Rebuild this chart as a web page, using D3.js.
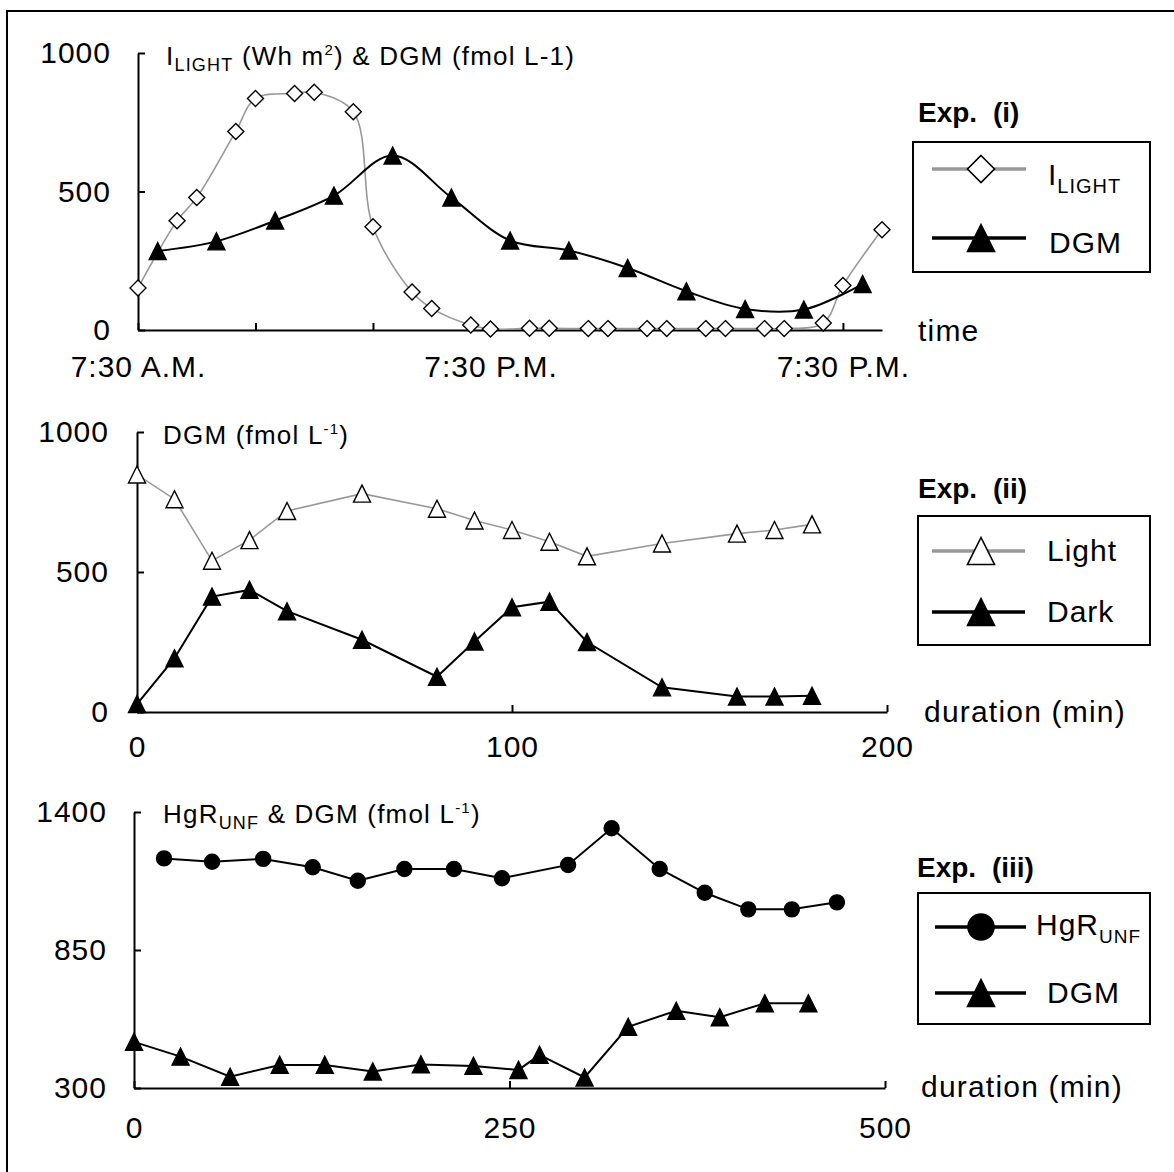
<!DOCTYPE html>
<html>
<head>
<meta charset="utf-8">
<script src="https://cdn.jsdelivr.net/npm/d3@7"></script>
<style>body{margin:0;background:#fff}</style>
</head>
<body>
<script>
// ---- data: Exp. (i) — hours after 7:30 A.M.
var timeTicks = [0, 4, 8, 12, 16, 20, 24];
var timeTickLabels = ["7:30 A.M.", "", "", "7:30 P.M.", "", "", "7:30 P.M."];
var lightHours = [0, 1.33, 2, 3.33, 4, 5.33, 6, 7.33, 8, 9.33, 10, 11.33, 12, 13.33, 14, 15.33, 16, 17.33, 18, 19.33, 20, 21.33, 22, 23.33, 24, 25.33];
var lightValues = [152, 394, 478, 717, 836, 854, 858, 788, 373, 137, 78, 18, 4, 6, 6, 5, 5, 5, 5, 5, 5, 5, 5, 25, 161, 362];
var dgmHours = [0.67, 2.67, 4.67, 6.67, 8.67, 10.67, 12.67, 14.67, 16.67, 18.67, 20.67, 22.67, 24.67];
var dgmValues = [285, 320, 395, 485, 630, 478, 323, 287, 224, 140, 76, 74, 166];

// ---- data: Exp. (ii) — duration (min)
var exp2Minutes = [0, 10, 20, 30, 40, 60, 80, 90, 100, 110, 120, 140, 160, 170, 180];
var exp2Light = [848, 760, 540, 614, 718, 780, 726, 684, 650, 608, 556, 602, 637, 650, 670];
var exp2Dark = [28, 192, 412, 436, 360, 258, 126, 252, 374, 394, 250, 88, 55, 55, 58];

// ---- data: Exp. (iii) — duration (min)
var hgrMinutes = [20, 52, 86, 119, 149, 180, 213, 245, 289, 318, 350, 380, 409, 438, 468];
var hgrValues = [1215, 1202, 1213, 1180, 1126, 1173, 1173, 1136, 1189, 1335, 1173, 1078, 1012, 1012, 1040];
var exp3DgmMinutes = [0, 31, 64, 97, 127, 159, 191, 226, 256, 270, 300, 329, 361, 390, 420, 449];
var exp3DgmValues = [484, 425, 345, 392, 392, 366, 394, 388, 372, 432, 342, 544, 608, 582, 638, 638];

var FONT = "'Liberation Sans', Arial, sans-serif";
var GRAY = "#989898";

var svg = d3.select("body").append("svg")
	.attr("width", 1174)
	.attr("height", 1172);

// outer frame (right/bottom sides are cut off in the original)
svg.append("rect")
	.attr("x", 7).attr("y", 11)
	.attr("width", 1200).attr("height", 1200)
	.attr("fill", "none").attr("stroke", "#000").attr("stroke-width", 2);

// marker shapes, size = edge length squared
var diamond = {draw: function(ctx, size){
	var a = Math.sqrt(size) / 2;
	ctx.moveTo(0, -a); ctx.lineTo(a, 0); ctx.lineTo(0, a); ctx.lineTo(-a, 0); ctx.closePath();
}};
var triangle = {draw: function(ctx, size){
	var a = Math.sqrt(size) / 2;
	ctx.moveTo(0, -a); ctx.lineTo(a, a); ctx.lineTo(-a, a); ctx.closePath();
}};
var dot = {draw: function(ctx, size){
	var r = Math.sqrt(size) / 2;
	ctx.moveTo(r, 0); ctx.arc(0, 0, r, 0, 2 * Math.PI);
}};

var rich = function(sel, parts){
	var shift = 0;
	parts.forEach(function(p){
		var s = p.shift || 0;
		sel.append("tspan")
		.attr("dy", s - shift)
		.attr("font-size", p.size)
		.text(p.t);
		shift = s;
	});
};

var styleAxis = function(sel){
	sel.attr("font-family", FONT).attr("font-size", 30).attr("letter-spacing", 1);
	sel.selectAll("path, line").attr("stroke", "#000").attr("stroke-width", 2);
};

var panels = [
	{
		x: d3.scaleLinear().domain([0, 25.33]).range([138, 882]),
		y: d3.scaleLinear().domain([0, 1000]).range([330, 53]),
		xTicks: timeTicks,
		xFormat: function(d, i){ return timeTickLabels[i]; },
		yTicks: [0, 500, 1000],
		xPad: 26, yPad: 27,
		curve: d3.curveCatmullRom,
		series: [
			{xs: lightHours, ys: lightValues, color: GRAY, width: 1.6, symbol: diamond, size: 256, fill: "#fff"},
			{xs: dgmHours, ys: dgmValues, color: "#000", width: 2, symbol: triangle, size: 289, fill: "#000"}
		],
		title: {x: 166, y: 65, parts: [
			{t: "I", size: 26}, {t: "LIGHT", size: 18, shift: 6},
			{t: " (Wh m", size: 26}, {t: "2", size: 15, shift: -10},
			{t: ") & DGM (fmol L-1)", size: 26}
		]},
		xTitle: {x: 918, y: 341, text: "time"},
		exp: {x: 918, y: 122, text: "Exp. (i)"},
		legend: {box: [913, 142, 237, 130], lx: [932, 1026], mx: 981,
			rows: [
				{y: 169, ty: 185, tx: 1048, parts: [{t: "I", size: 30}, {t: "LIGHT", size: 20, shift: 8}]},
				{y: 238, ty: 253, tx: 1049, parts: [{t: "DGM", size: 30}]}
			]}
	},
	{
		x: d3.scaleLinear().domain([0, 200]).range([137, 887]),
		y: d3.scaleLinear().domain([0, 1000]).range([712, 432]),
		xTicks: [0, 100, 200],
		xFormat: d3.format("d"),
		yTicks: [0, 500, 1000],
		xPad: 24, yPad: 28,
		curve: d3.curveLinear,
		series: [
			{xs: exp2Minutes, ys: exp2Light, color: GRAY, width: 1.6, symbol: triangle, size: 289, fill: "#fff"},
			{xs: exp2Minutes, ys: exp2Dark, color: "#000", width: 2, symbol: triangle, size: 289, fill: "#000"}
		],
		title: {x: 163, y: 444, parts: [
			{t: "DGM (fmol L", size: 26}, {t: "-1", size: 15, shift: -10}, {t: ")", size: 26}
		]},
		xTitle: {x: 924, y: 722, text: "duration (min)"},
		exp: {x: 918, y: 498, text: "Exp. (ii)"},
		legend: {box: [918, 516, 232, 129], lx: [932, 1025], mx: 981,
			rows: [
				{y: 551, ty: 561, tx: 1047, parts: [{t: "Light", size: 30}]},
				{y: 612, ty: 622, tx: 1047, parts: [{t: "Dark", size: 30}]}
			]}
	},
	{
		x: d3.scaleLinear().domain([0, 500]).range([134, 885]),
		y: d3.scaleLinear().domain([300, 1400]).range([1088, 812]),
		xTicks: [0, 250, 500],
		xFormat: d3.format("d"),
		yTicks: [300, 850, 1400],
		xPad: 29, yPad: 27,
		curve: d3.curveLinear,
		series: [
			{xs: hgrMinutes, ys: hgrValues, color: "#000", width: 2, symbol: dot, size: 225, fill: "#000"},
			{xs: exp3DgmMinutes, ys: exp3DgmValues, color: "#000", width: 2, symbol: triangle, size: 289, fill: "#000"}
		],
		title: {x: 163, y: 823, parts: [
			{t: "HgR", size: 26}, {t: "UNF", size: 18, shift: 6},
			{t: " & DGM (fmol L", size: 26}, {t: "-1", size: 15, shift: -10}, {t: ")", size: 26}
		]},
		xTitle: {x: 921, y: 1097, text: "duration (min)"},
		exp: {x: 917, y: 877, text: "Exp. (iii)"},
		legend: {box: [918, 893, 232, 131], lx: [935, 1026], mx: 981,
			rows: [
				{y: 927, ty: 935, tx: 1036, parts: [{t: "HgR", size: 30}, {t: "UNF", size: 19, shift: 8}]},
				{y: 993, ty: 1003, tx: 1047, parts: [{t: "DGM", size: 30}]}
			]}
	}
];

var drawPanel = function(p){
	var g = svg.append("g");

	g.append("g")
	.attr("transform", "translate(0," + p.y.range()[0] + ")")
	.call(d3.axisBottom(p.x).tickValues(p.xTicks).tickFormat(p.xFormat)
		.tickSizeInner(-7).tickSizeOuter(0).tickPadding(p.xPad))
	.call(styleAxis);

	g.append("g")
	.attr("transform", "translate(" + p.x.range()[0] + ",0)")
	.call(d3.axisLeft(p.y).tickValues(p.yTicks).tickFormat(d3.format("d"))
		.tickSizeInner(-7).tickSizeOuter(0).tickPadding(p.yPad))
	.call(styleAxis);

	// lines first, markers on top
	p.series.forEach(function(s){
		var line = d3.line()
			.x(function(d, i){ return p.x(s.xs[i]); })
			.y(function(d){ return p.y(d); })
			.curve(p.curve);
		g.append("path")
		.attr("d", line(s.ys))
		.attr("fill", "none")
		.attr("stroke", s.color)
		.attr("stroke-width", s.width);
	});
	p.series.forEach(function(s){
		g.append("g").selectAll("path")
		.data(s.ys)
		.enter()
		.append("path")
		.attr("transform", function(d, i){ return "translate(" + p.x(s.xs[i]) + "," + p.y(d) + ")"; })
		.attr("d", d3.symbol(s.symbol, s.size))
		.attr("fill", s.fill)
		.attr("stroke", "#000")
		.attr("stroke-width", 1.4);
	});

	var title = g.append("text")
		.attr("x", p.title.x).attr("y", p.title.y)
		.attr("font-family", FONT).attr("letter-spacing", 1.2);
	rich(title, p.title.parts);

	g.append("text")
	.attr("x", p.xTitle.x).attr("y", p.xTitle.y)
	.attr("font-family", FONT).attr("font-size", 30).attr("letter-spacing", 1.2)
	.text(p.xTitle.text);

	g.append("text")
	.attr("x", p.exp.x).attr("y", p.exp.y)
	.attr("font-family", FONT).attr("font-size", 28).attr("font-weight", "bold")
	.attr("word-spacing", 8)
	.text(p.exp.text);

	var L = p.legend;
	g.append("rect")
	.attr("x", L.box[0]).attr("y", L.box[1])
	.attr("width", L.box[2]).attr("height", L.box[3])
	.attr("fill", "#fff").attr("stroke", "#000").attr("stroke-width", 2);

	L.rows.forEach(function(r, i){
		var s = p.series[i];
		g.append("line")
		.attr("x1", L.lx[0]).attr("x2", L.lx[1])
		.attr("y1", r.y).attr("y2", r.y)
		.attr("stroke", s.color).attr("stroke-width", 3.5);
		g.append("path")
		.attr("transform", "translate(" + L.mx + "," + r.y + ")")
		.attr("d", d3.symbol(s.symbol, s.symbol === dot ? 676 : 729))
		.attr("fill", s.fill).attr("stroke", "#000").attr("stroke-width", 1.6);
		var t = g.append("text")
			.attr("x", r.tx).attr("y", r.ty)
			.attr("font-family", FONT).attr("letter-spacing", 1);
		rich(t, r.parts);
	});
};

panels.forEach(drawPanel);
</script>
</body>
</html>
